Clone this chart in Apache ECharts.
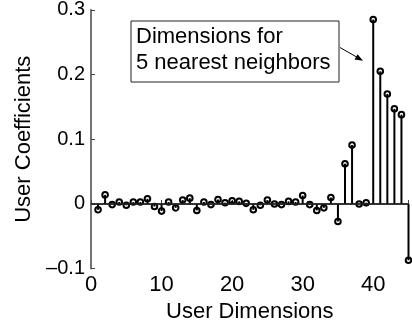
<!DOCTYPE html>
<html>
<head>
<meta charset="utf-8">
<script src="https://cdn.jsdelivr.net/npm/echarts@6/dist/echarts.min.js"></script>
<style>
  html, body { margin: 0; padding: 0; background: #fff; }
  #chart { width: 412px; height: 320px; }
</style>
</head>
<body>
<div id="chart"></div>
<script>
const FONT = "'Liberation Sans', Arial, Helvetica, sans-serif";

// user dimension index 1..45 and its coefficient
const dims = [
  1, 2, 3, 4, 5, 6, 7, 8, 9, 10,
  11, 12, 13, 14, 15, 16, 17, 18, 19, 20,
  21, 22, 23, 24, 25, 26, 27, 28, 29, 30,
  31, 32, 33, 34, 35, 36, 37, 38, 39, 40,
  41, 42, 43, 44, 45
];
const coeffs = [
  -0.009, 0.014, -0.001, 0.003, -0.002, 0.003, 0.003, 0.008, -0.004, -0.011,
  0.003, -0.006, 0.006, 0.009, -0.010, 0.003, -0.001, 0.007, 0.002, 0.005,
  0.004, 0.001, -0.009, -0.002, 0.006, 0.000, -0.001, 0.004, 0.003, 0.013,
  -0.001, -0.010, -0.006, 0.010, -0.027, 0.062, 0.091, 0.000, 0.002, 0.285,
  0.205, 0.170, 0.147, 0.138, -0.087
];
const xTicks = [0, 10, 20, 30, 40];
const yTicks = [-0.1, 0, 0.1, 0.2, 0.3];
const noteLines = ["Dimensions for", "5 nearest neighbors"];

const chart = echarts.init(document.getElementById("chart"));

const data = dims.map((d, i) => [d, coeffs[i]]);

function stem(params, api) {
  const x = api.value(0);
  const y = api.value(1);
  const base = api.coord([x, 0]);
  const top = api.coord([x, y]);
  return {
    type: "group",
    children: [
      {
        type: "line",
        shape: { x1: base[0], y1: base[1], x2: top[0], y2: top[1] },
        style: { stroke: "#000", lineWidth: 2 }
      },
      {
        type: "circle",
        shape: { cx: top[0], cy: top[1], r: 2.8 },
        style: { fill: "none", stroke: "#000", lineWidth: 2 }
      }
    ]
  };
}

const fmt = v => {
  const r = Math.round(v * 10) / 10;
  if (r === 0) return "0";
  return r < 0 ? "\u2013" + String(-r) : String(r);
};

chart.setOption({
  animation: false,
  backgroundColor: "#fff",
  textStyle: { fontFamily: FONT },
  grid: { left: 91, right: 3.5, top: 9.8, bottom: 51.3, outerBoundsMode: "none", containLabel: false },
  xAxis: {
    type: "value",
    min: xTicks[0],
    max: 45,
    interval: 10,
    name: "User Dimensions",
    nameLocation: "middle",
    nameGap: 22,
    nameTextStyle: { fontSize: 22, color: "#000", fontFamily: FONT },
    axisLine: { show: true, lineStyle: { color: "#444", width: 1.5 } },
    axisTick: { show: true, inside: true, length: 4, lineStyle: { color: "#444" } },
    axisLabel: {
      fontSize: 22, color: "#000", margin: 5, fontFamily: FONT,
      formatter: v => (xTicks.indexOf(v) >= 0 ? String(v) : "")
    },
    splitLine: { show: false }
  },
  yAxis: {
    type: "value",
    min: yTicks[0],
    max: yTicks[yTicks.length - 1],
    interval: 0.1,
    name: "User Coefficients",
    nameLocation: "middle",
    nameGap: 52,
    nameTextStyle: { fontSize: 22, color: "#000", fontFamily: FONT },
    axisLine: { show: true, lineStyle: { color: "#444", width: 1.5 } },
    axisTick: { show: true, inside: true, length: 4, lineStyle: { color: "#444" } },
    axisLabel: { fontSize: 20, color: "#000", margin: 6, fontFamily: FONT, formatter: fmt },
    splitLine: { show: false }
  },
  series: [
    {
      type: "custom",
      data: data,
      renderItem: stem,
      clip: false,
      z: 3,
      markLine: {
        silent: true,
        symbol: "none",
        label: { show: false },
        lineStyle: { color: "#222", width: 1.5, type: "solid" },
        data: [{ yAxis: 0 }]
      }
    }
  ],
  graphic: [
    {
      type: "rect",
      shape: { x: 131, y: 21, width: 208, height: 61 },
      style: { fill: "#fff", stroke: "#222", lineWidth: 1 },
      z: 10
    },
    {
      type: "text",
      left: 136,
      top: 24,
      style: {
        text: noteLines.join("\n"),
        font: "22px " + FONT,
        lineHeight: 26,
        fill: "#000"
      },
      z: 11
    },
    {
      type: "line",
      shape: { x1: 340, y1: 47.5, x2: 361, y2: 59.5 },
      style: { stroke: "#000", lineWidth: 1 },
      z: 11
    },
    {
      type: "polygon",
      shape: { points: [[363, 60.8], [354.5, 59.6], [357.6, 54.2]] },
      style: { fill: "#000" },
      z: 11
    }
  ]
});
</script>
</body>
</html>
